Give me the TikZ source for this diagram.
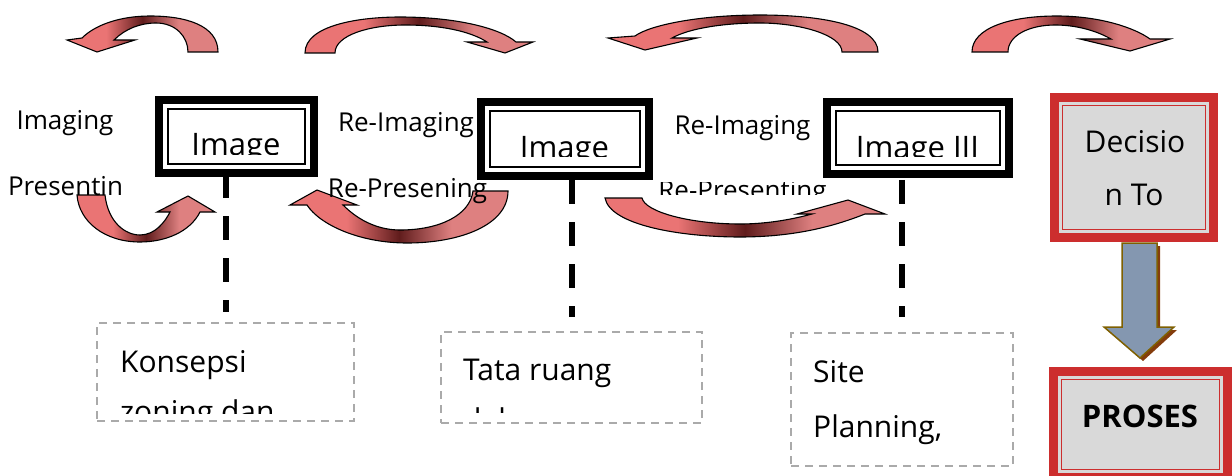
\documentclass[tikz,border=0pt]{standalone}
\usepackage{fontspec}
\setmainfont{Open Sans}
\usepackage{xcolor}

\definecolor{arrowred}{RGB}{234,116,116}
\definecolor{arrowpink}{RGB}{222,128,128}
\definecolor{arrowdark}{RGB}{96,28,28}
\definecolor{boxred}{RGB}{204,46,46}
\definecolor{boxgray}{RGB}{217,217,217}
\definecolor{dashgray}{RGB}{170,170,170}
\definecolor{downblue}{RGB}{132,151,176}
\definecolor{downedge}{RGB}{127,96,0}
\definecolor{downshadow}{RGB}{132,60,12}

\pgfdeclarehorizontalshading{bandshade}{100bp}{color(0bp)=(arrowred); color(25bp)=(arrowred);
  color(38bp)=(arrowred); color(50bp)=(arrowdark); color(62bp)=(arrowpink); color(75bp)=(arrowpink);
  color(100bp)=(arrowpink)}

\begin{document}
\begin{tikzpicture}[x=1pt, y=-1pt,
    curvearrow/.style={draw=black, line width=1.1pt, shading=bandshade},
    imgbox/.style={draw=black, line width=8pt, fill=white, inner sep=0pt, outer sep=0pt},
    thinframe/.style={draw=black, line width=1.6pt},
    redbox/.style={draw=boxred, line width=9pt, fill=boxgray, inner sep=0pt, outer sep=0pt},
    redframe/.style={draw=boxred, line width=1.5pt},
    notebox/.style={draw=dashgray, line width=2.5pt, dash pattern=on 8pt off 6pt, inner sep=0pt, outer sep=0pt},
    vline/.style={draw=black, line width=6pt, dash pattern=on 24pt off 18pt},
    lbl/.style={font=\fontsize{26}{30}\selectfont, inner sep=0pt, anchor=base},
    boxtxt/.style={font=\fontsize{30}{36}\selectfont, inner sep=0pt, anchor=base},
    notetxt/.style={font=\fontsize{30}{36}\selectfont, inner sep=0pt, anchor=base west}
  ]
    \clip (0,0) rectangle (1232,476);

    % Image boxes
    \node[imgbox, minimum width=155pt, minimum height=73pt] (img1) at (236.5,136.5) {};
    \node[imgbox, minimum width=168pt, minimum height=74pt] (img2) at (565,139) {};
    \node[imgbox, minimum width=182pt, minimum height=72pt] (img3) at (918,138) {};
    \foreach \b in {img1,img2,img3}
        \draw[thinframe] ([shift={(9pt,-9pt)}]\b.north west) rectangle ([shift={(-9pt,9pt)}]\b.south east);

    % Note boxes
    \node[notebox, minimum width=257pt, minimum height=98pt] (note1) at (225.5,372) {};
    \node[notebox, minimum width=261pt, minimum height=91pt] (note2) at (571.5,377.5) {};
    \node[notebox, minimum width=222pt, minimum height=133pt] (note3) at (902,399.5) {};

    % Dashed links
    \draw[vline] ([yshift=-1pt]img1.south -| note1.north) -- ([yshift=11pt]note1.north);
    \draw[vline] ([yshift=-4pt]img2.south -| note2.north) -- ([yshift=15pt]note2.north);
    \draw[vline] ([yshift=-6pt]img3.south -| note3.north) -- ([yshift=16pt]note3.north);

    % Decision and process boxes
    \node[redbox, minimum width=159pt, minimum height=140pt] (dec) at (1134,167.5) {};
    \node[redbox, minimum width=174pt, minimum height=106pt] (pro) at (1140.5,424.5) {};
    \foreach \b in {dec,pro}
        \draw[redframe] ([shift={(8pt,-8pt)}]\b.north west) rectangle ([shift={(-8pt,8pt)}]\b.south east);

    % Down arrow
    \fill[downshadow, xshift=3pt, yshift=-3pt] (1122,243) -- (1157,243) -- (1157,327) -- (1174,327)
        -- (1140,358) -- (1104,327) -- (1122,327) -- cycle;
    \draw[fill=downblue, draw=downedge, line width=1.5pt] (1122,243) -- (1157,243) -- (1157,327) -- (1174,327)
        -- (1140,358) -- (1104,327) -- (1122,327) -- cycle;

    % Top curved arrows
    \draw[curvearrow] (218,52) .. controls (218,25) and (185,16) .. (150,16) .. controls (120,16) and (95,25) .. (82,38)
        -- (67,40) -- (97,52) -- (135,40) -- (114,40) .. controls (125,29) and (140,23) .. (156,23)
        .. controls (176,23) and (188,37) .. (188,52) -- cycle;
    \draw[curvearrow] (305,53) .. controls (305,25) and (360,17) .. (400,17) .. controls (455,17) and (500,28) .. (516,42)
        -- (533,42) -- (505,53) -- (467,42) -- (487,42) .. controls (470,31) and (440,25) .. (405,25)
        .. controls (370,25) and (335,35) .. (335,53) -- cycle;
    \draw[curvearrow] (878,52) .. controls (878,25) and (820,15) .. (760,15) .. controls (700,15) and (650,25) .. (635,36)
        -- (608,38) -- (645,50) -- (697,38) -- (672,38) .. controls (690,28) and (725,23) .. (760,23)
        .. controls (800,23) and (842,35) .. (842,52) -- cycle;
    \draw[curvearrow] (972,52) .. controls (972,28) and (1010,16) .. (1057,16) .. controls (1100,16) and (1135,28) .. (1150,39)
        -- (1170,39) -- (1130,51) -- (1080,39) -- (1111,39) .. controls (1095,30) and (1075,25) .. (1055,25)
        .. controls (1030,25) and (1008,35) .. (1008,52) -- cycle;

    % Bottom curved arrows
    \draw[curvearrow] (77,195) -- (105,195) .. controls (108,222) and (125,235) .. (140,235)
        .. controls (155,235) and (165,222) .. (170,212) -- (157,212) -- (188,196) -- (215,212) -- (200,212)
        .. controls (190,232) and (165,242) .. (140,242) .. controls (105,242) and (79,222) .. (77,195) -- cycle;
    \draw[curvearrow] (508,191) .. controls (508,225) and (460,243) .. (407,243) .. controls (360,243) and (320,225) .. (307,205)
        -- (290,205) -- (317,190) -- (357,205) -- (343,205) .. controls (360,222) and (380,230) .. (400,230)
        .. controls (440,230) and (470,215) .. (473,191) -- cycle;
    \draw[curvearrow] (605,198) .. controls (610,225) and (680,237) .. (740,237) .. controls (790,237) and (830,228) .. (865,214)
        -- (885,214) -- (848,200) -- (797,214) -- (812,214) .. controls (790,220) and (765,224) .. (740,224)
        .. controls (690,224) and (645,212) .. (642,198) -- cycle;

    % Labels
    \node[lbl] (imaging) at (65,130) {Imaging};
    \node[lbl] (reimg1) at (406,132) {Re-Imaging};
    \node[lbl] (reimg2) at (742.5,135) {Re-Imaging};
    \begin{scope}
        \clip (0,170) rectangle (140,196);
        \node[lbl] (presentin) at (65.5,195) {Presentin};
    \end{scope}
    \begin{scope}
        \clip (320,170) rectangle (500,204);
        \node[lbl] (represening) at (407.5,197) {Re-Presening};
    \end{scope}
    \begin{scope}
        \clip (650,183) rectangle (840,194);
        \node[lbl] (representing) at (742.5,200) {Re-Presenting};
    \end{scope}

    % Box texts
    \begin{scope}
        \clip (159,100) rectangle (314,154.5);
        \node[boxtxt, font=\fontsize{31}{36}\selectfont] (txt1) at (236,156) {Image};
    \end{scope}
    \begin{scope}
        \clip (481,102) rectangle (649,157);
        \node[boxtxt, font=\fontsize{31}{36}\selectfont] (txt2) at (564.5,159) {Image};
    \end{scope}
    \begin{scope}
        \clip (827,102) rectangle (1009,157);
        \node[boxtxt, font=\fontsize{31}{36}\selectfont] (txt3) at (917.5,159) {Image III};
    \end{scope}
    \node[boxtxt] (dec1) at (1135,153) {Decisio};
    \node[boxtxt] (dec2) at (1134,205) {n To};
    \node[boxtxt, font=\fontsize{31}{36}\selectfont\bfseries] (protxt) at (1140,427) {PROSES};

    % Note texts
    \begin{scope}
        \clip (97,323) rectangle (354,413);
        \node[notetxt] (k1) at (120,372) {Konsepsi};
        \node[notetxt] (k2) at (120,422) {zoning dan};
    \end{scope}
    \begin{scope}
        \clip (441,332) rectangle (702,412);
        \node[notetxt] (t1) at (463,380) {Tata ruang};
        \node[notetxt] (t2) at (463,430) {dalam};
    \end{scope}
    \node[notetxt] (s1) at (813,382) {Site};
    \node[notetxt] (s2) at (813,437) {Planning,};
\end{tikzpicture}
\end{document}
